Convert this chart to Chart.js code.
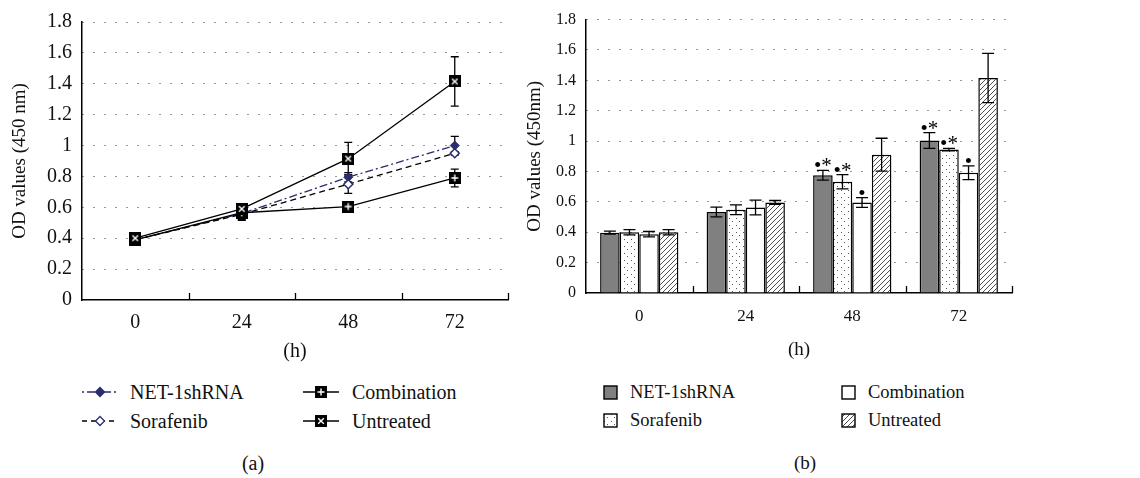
<!DOCTYPE html>
<html>
<head>
<meta charset="utf-8">
<title>OD values</title>
<script src="https://cdn.jsdelivr.net/npm/chart.js@4.4.1/dist/chart.umd.min.js"></script>
<style>
  html, body { margin: 0; padding: 0; background: #fff; }
  body { position: relative; width: 1140px; height: 478px; overflow: hidden;
         font-family: "Liberation Serif", "DejaVu Serif", serif; color: #111; }
  .panel { position: absolute; top: 0; }
  .item { position: absolute; white-space: nowrap; line-height: 20px;
          font-family: "Liberation Serif", "DejaVu Serif", serif; }
  .cap { position: absolute; text-align: center; line-height: 20px; }
</style>
</head>
<body>
<div class="panel" style="left:0;width:520px;height:370px"><canvas id="chartA"></canvas></div>
<div class="panel" style="left:490px;width:540px;height:363px"><canvas id="chartB"></canvas></div>
<div id="legendA"></div>
<div id="legendB"></div>
<div class="cap" style="left:223px;top:453px;width:60px;font-size:20px">(a)</div>
<div class="cap" style="left:775px;top:453px;width:60px;font-size:19px">(b)</div>

<script>
const SERIF = '"Liberation Serif", "DejaVu Serif", serif';
const NAVY = '#2a2c6e';

const hours = ['0', '24', '48', '72'];

// (a) line chart
const netLine = [0.39, 0.56, 0.795, 1.0];
const netLineErr = [0.01, 0.03, 0.03, 0.06];
const sorLine = [0.39, 0.555, 0.75, 0.95];
const sorLineErr = [0.015, 0.04, 0.06, 0.01];
const combLine = [0.39, 0.565, 0.605, 0.79];
const combLineErr = [0.015, 0.045, 0.03, 0.057];
const untrLine = [0.40, 0.59, 0.915, 1.415];
const untrLineErr = [0.015, 0.015, 0.105, 0.16];

// (b) bar chart
const netBar = [0.397, 0.533, 0.775, 1.004];
const netBarErr = [0.01, 0.032, 0.032, 0.052];
const sorBar = [0.40, 0.548, 0.732, 0.944];
const sorBarErr = [0.017, 0.032, 0.047, 0.008];
const combBar = [0.387, 0.563, 0.596, 0.792];
const combBarErr = [0.018, 0.048, 0.032, 0.045];
const untrBar = [0.40, 0.596, 0.911, 1.416];
const untrBarErr = [0.017, 0.013, 0.108, 0.162];
const netSig = ['', '', '•*', '•*'];
const sorSig = ['', '', '•*', '•*'];
const combSig = ['', '', '•', '•'];

Chart.defaults.font.family = SERIF;
Chart.defaults.color = '#111';

// markers for combination / untreated
function boxMarker(sym) {
  const c = document.createElement('canvas');
  c.width = 12; c.height = 12;
  const g = c.getContext('2d');
  g.fillStyle = '#000';
  g.fillRect(0, 0, 12, 12);
  g.strokeStyle = '#fff';
  g.lineWidth = 1.4;
  g.beginPath();
  if (sym === '+') {
    g.moveTo(6, 2.5); g.lineTo(6, 9.5);
    g.moveTo(2.5, 6); g.lineTo(9.5, 6);
  } else {
    g.moveTo(3.2, 3.2); g.lineTo(8.8, 8.8);
    g.moveTo(8.8, 3.2); g.lineTo(3.2, 8.8);
  }
  g.stroke();
  return c;
}
const plusMark = boxMarker('+');
const crossMark = boxMarker('x');

// fills for bars
function dotTile() {
  const c = document.createElement('canvas');
  c.width = 7; c.height = 7;
  const g = c.getContext('2d');
  g.fillStyle = '#fff';
  g.fillRect(0, 0, 7, 7);
  g.fillStyle = '#555';
  g.fillRect(1, 1, 1, 1);
  g.fillRect(4, 4, 1, 1);
  return c;
}
function hatchTile() {
  const c = document.createElement('canvas');
  c.width = 5; c.height = 5;
  const g = c.getContext('2d');
  g.fillStyle = '#fff';
  g.fillRect(0, 0, 5, 5);
  g.strokeStyle = '#222';
  g.lineWidth = 0.8;
  g.beginPath();
  g.moveTo(-1, 6); g.lineTo(6, -1);
  g.stroke();
  return c;
}

function xScale(size, pad, height, titlePad, titleSize) {
  return {
    offset: true,
    grid: { display: false, drawTicks: false },
    border: { color: '#000', width: 1.5 },
    ticks: { color: '#111', padding: pad, maxRotation: 0, font: { family: SERIF, size: size } },
    title: { display: true, text: '(h)', color: '#111', font: { family: SERIF, size: titleSize },
             padding: { top: 0, bottom: titlePad } },
    afterFit(s) { s.height = height; }
  };
}

function yScale(size, text, titlePad, width, titleSize) {
  return {
    min: 0, max: 1.8,
    ticks: { stepSize: 0.2, color: '#111', padding: 10, font: { family: SERIF, size: size },
             callback: v => String(+v.toFixed(1)) },
    grid: { drawTicks: false, lineWidth: 1,
            color: c => (c.tick && c.tick.value === 0) ? 'rgba(0,0,0,0)' : '#333' },
    border: { color: '#000', width: 1.5, dash: [1, 10] },
    title: { display: true, text: text, color: '#111', font: { family: SERIF, size: titleSize },
             padding: { top: titlePad, bottom: 0 } },
    afterFit(s) { s.width = width; }
  };
}

function drawErrors(chart, opts) {
  const ctx = chart.ctx, y = chart.scales.y;
  ctx.save();
  ctx.strokeStyle = '#000';
  ctx.lineWidth = opts.width;
  ctx.setLineDash([]);
  chart.data.datasets.forEach((ds, di) => {
    if (!ds.errors) return;
    chart.getDatasetMeta(di).data.forEach((el, i) => {
      const top = y.getPixelForValue(ds.data[i] + ds.errors[i]);
      const bot = y.getPixelForValue(ds.data[i] - ds.errors[i]);
      ctx.beginPath();
      ctx.moveTo(el.x, top); ctx.lineTo(el.x, bot);
      ctx.moveTo(el.x - opts.cap, top); ctx.lineTo(el.x + opts.cap, top);
      ctx.moveTo(el.x - opts.cap, bot); ctx.lineTo(el.x + opts.cap, bot);
      ctx.stroke();
    });
  });
  ctx.restore();
}

const errorBars = {
  id: 'errorBars',
  beforeDatasetsDraw(chart, args, opts) { if (!opts.onTop) drawErrors(chart, opts); },
  afterDatasetsDraw(chart, args, opts) { if (opts.onTop) drawErrors(chart, opts); }
};

const sigMarks = {
  id: 'sigMarks',
  afterDatasetsDraw(chart) {
    const ctx = chart.ctx, y = chart.scales.y;
    ctx.save();
    ctx.fillStyle = '#000';
    ctx.font = '21px ' + SERIF;
    ctx.textAlign = 'center';
    ctx.textBaseline = 'alphabetic';
    chart.data.datasets.forEach((ds, di) => {
      if (!ds.sig) return;
      chart.getDatasetMeta(di).data.forEach((el, i) => {
        if (!ds.sig[i]) return;
        const top = y.getPixelForValue(ds.data[i] + ds.errors[i]);
        ctx.fillText(ds.sig[i], el.x, top + 2);
      });
    });
    ctx.restore();
  }
};

// small tick marks between categories, pointing into the plot
const innerTicks = {
  id: 'innerTicks',
  afterDraw(chart) {
    const ctx = chart.ctx;
    const { left, right, bottom } = chart.chartArea;
    const n = chart.data.labels.length;
    ctx.save();
    ctx.strokeStyle = '#000';
    ctx.lineWidth = 1.3;
    ctx.beginPath();
    for (let i = 1; i <= n; i++) {
      const px = Math.round(left + (right - left) * i / n) + 0.5;
      ctx.moveTo(px, bottom);
      ctx.lineTo(px, bottom - 7);
    }
    ctx.stroke();
    ctx.restore();
  }
};

// chart (a)
new Chart(document.getElementById('chartA'), {
  type: 'line',
  data: {
    labels: hours,
    datasets: [
      { label: 'Untreated', data: untrLine, errors: untrLineErr, borderColor: '#000', borderWidth: 1.3,
        pointStyle: crossMark, pointRadius: 6, order: 0 },
      { label: 'Combination', data: combLine, errors: combLineErr, borderColor: '#000', borderWidth: 1.3,
        pointStyle: plusMark, pointRadius: 6, order: 1 },
      { label: 'Sorafenib', data: sorLine, errors: sorLineErr, borderColor: '#000', borderWidth: 1.3,
        borderDash: [6, 4], pointStyle: 'rectRot', pointRadius: 4.5, pointBackgroundColor: '#fff',
        pointBorderColor: NAVY, pointBorderWidth: 1.5, order: 2 },
      { label: 'NET-1shRNA', data: netLine, errors: netLineErr, borderColor: NAVY, borderWidth: 1.3,
        borderDash: [8, 3, 2, 3], pointStyle: 'rectRot', pointRadius: 4.5, pointBackgroundColor: NAVY,
        pointBorderColor: NAVY, pointBorderWidth: 1, order: 3 }
    ]
  },
  options: {
    responsive: true, maintainAspectRatio: false, animation: false,
    layout: { padding: { top: 22, right: 12, left: 0, bottom: 0 } },
    elements: { line: { tension: 0, fill: false } },
    plugins: { legend: { display: false }, tooltip: { enabled: false },
               errorBars: { cap: 4, width: 1.3, onTop: false } },
    scales: {
      x: xScale(20, 11, 70, 6, 20),
      y: yScale(20, 'OD values (450 nm)', 8.6, 82, 19)
    }
  },
  plugins: [errorBars, innerTicks]
});

// chart (b)
const ctxB = document.getElementById('chartB').getContext('2d');
const dotFill = ctxB.createPattern(dotTile(), 'repeat');
const hatchFill = ctxB.createPattern(hatchTile(), 'repeat');

new Chart(ctxB, {
  type: 'bar',
  data: {
    labels: hours,
    datasets: [
      { label: 'NET-1shRNA', data: netBar, errors: netBarErr, sig: netSig, backgroundColor: '#808080' },
      { label: 'Sorafenib', data: sorBar, errors: sorBarErr, sig: sorSig, backgroundColor: dotFill },
      { label: 'Combination', data: combBar, errors: combBarErr, sig: combSig, backgroundColor: '#fff' },
      { label: 'Untreated', data: untrBar, errors: untrBarErr, backgroundColor: hatchFill }
    ]
  },
  options: {
    responsive: true, maintainAspectRatio: false, animation: false,
    layout: { padding: { top: 15, right: 18, left: 0, bottom: 0 } },
    datasets: { bar: { categoryPercentage: 0.735, barPercentage: 1, borderColor: '#000', borderWidth: 1.5 } },
    plugins: { legend: { display: false }, tooltip: { enabled: false },
               errorBars: { cap: 6, width: 1.3, onTop: true } },
    scales: {
      x: xScale(17, 13, 70, 2, 19),
      y: yScale(16, 'OD values (450nm)', 33.6, 96, 19)
    }
  },
  plugins: [errorBars, sigMarks, innerTicks]
});

// legends
function legendItem(parent, x, y, w, h, textX, size, text, draw) {
  const sym = document.createElement('canvas');
  sym.width = w; sym.height = h;
  sym.style.cssText = 'position:absolute;left:' + x + 'px;top:' + (y - h / 2) + 'px';
  draw(sym.getContext('2d'), w, h);
  const t = document.createElement('div');
  t.className = 'item';
  t.textContent = text;
  t.style.left = textX + 'px';
  t.style.top = (y - 10) + 'px';
  t.style.fontSize = size + 'px';
  t.style.fontFamily = SERIF;
  parent.appendChild(sym);
  parent.appendChild(t);
}

function lineSymbol(color, dash, marker) {
  return (g, w, h) => {
    g.strokeStyle = color;
    g.lineWidth = 1.3;
    g.setLineDash(dash);
    g.beginPath();
    g.moveTo(0, h / 2); g.lineTo(w, h / 2);
    g.stroke();
    g.setLineDash([]);
    marker(g, w / 2, h / 2);
  };
}
function diamond(fill) {
  return (g, cx, cy) => {
    g.beginPath();
    g.moveTo(cx, cy - 4.5); g.lineTo(cx + 4.5, cy); g.lineTo(cx, cy + 4.5); g.lineTo(cx - 4.5, cy);
    g.closePath();
    g.fillStyle = fill; g.fill();
    g.strokeStyle = NAVY; g.lineWidth = 1.3; g.stroke();
  };
}
function imageMark(img) {
  return (g, cx, cy) => g.drawImage(img, cx - img.width / 2, cy - img.height / 2);
}
function boxSymbol(fill) {
  return (g, w, h) => {
    g.fillStyle = typeof fill === 'string' ? fill : g.createPattern(fill, 'repeat');
    g.fillRect(1, 1, w - 2, h - 2);
    g.strokeStyle = '#000';
    g.lineWidth = 1.4;
    g.strokeRect(1, 1, w - 2, h - 2);
  };
}

const legA = document.getElementById('legendA');
legendItem(legA, 82, 392, 36, 16, 130, 20, 'NET-1shRNA', lineSymbol(NAVY, [2, 3, 8, 3], diamond(NAVY)));
legendItem(legA, 82, 421, 36, 16, 130, 20, 'Sorafenib', lineSymbol('#000', [5, 4], diamond('#fff')));
legendItem(legA, 303, 392, 36, 16, 352, 20, 'Combination', lineSymbol('#000', [], imageMark(plusMark)));
legendItem(legA, 303, 421, 36, 16, 352, 20, 'Untreated', lineSymbol('#000', [], imageMark(crossMark)));

const legB = document.getElementById('legendB');
legendItem(legB, 603, 392, 15, 15, 630, 18.5, 'NET-1shRNA', boxSymbol('#808080'));
legendItem(legB, 603, 420, 15, 15, 630, 18.5, 'Sorafenib', boxSymbol(dotTile()));
legendItem(legB, 841, 392, 15, 15, 868, 18.5, 'Combination', boxSymbol('#fff'));
legendItem(legB, 841, 420, 15, 15, 868, 18.5, 'Untreated', boxSymbol(hatchTile()));
</script>
</body>
</html>
